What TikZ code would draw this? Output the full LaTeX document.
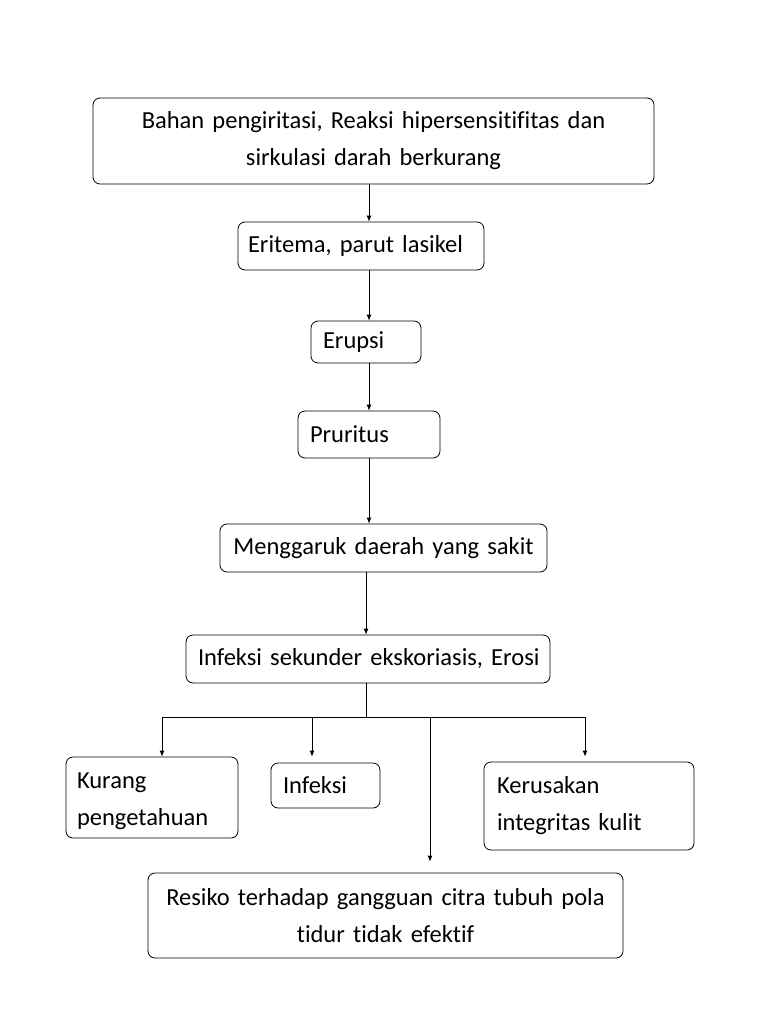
\documentclass[tikz,border=0pt]{standalone}
\usepackage{fontspec}
\setmainfont[Ligatures={NoCommon},WordSpace=0.8]{Carlito}
\usetikzlibrary{arrows.meta}
\begin{document}
\begin{tikzpicture}[x=1pt,y=-1pt,
  box/.style={draw, rounded corners=7pt, line width=0.8pt, inner xsep=12pt, inner ysep=0pt,
     font=\fontsize{24.5}{37}\selectfont},
  arr/.style={line width=0.8pt, -{Latex[length=6pt,width=5pt]}},
  ln/.style={line width=0.8pt}]
\useasboundingbox (0,0) rectangle (768,1024);
\node[box, align=center, text width=537pt, minimum height=86pt] (top) at (373.5,141) {Bahan pengiritasi, Reaksi hipersensitifitas dan\\sirkulasi darah berkurang};
\node[box, align=left, text width=226pt, inner xsep=10pt, minimum height=48pt] (erit) at (361,246) {\mbox{Eritema, parut lasikel}};
\node[box, align=left, text width=86pt, minimum height=42pt] (erup) at (366,342) {Erupsi};
\node[box, align=left, text width=118pt, minimum height=47pt] (prur) at (369,434.5) {Pruritus};
\node[box, align=center, text width=303pt, minimum height=48pt] (meng) at (383.5,548) {\mbox{Menggaruk daerah yang sakit}};
\node[box, align=left, text width=340pt, minimum height=48pt] (infs) at (368,659) {\mbox{Infeksi sekunder ekskoriasis, Erosi}};
\node[box, align=left, text width=150pt, inner xsep=11pt, minimum height=81pt] (kur) at (152,797.5) {\rule{0pt}{24pt}Kurang\\pengetahuan};
\node[box, align=left, text width=85pt, minimum height=45pt] (inf) at (325.5,785.5) {Infeksi};
\node[box, align=left, text width=184pt, inner xsep=13pt, minimum height=88pt] (ker) at (589,806) {Kerusakan\\integritas kulit};
\node[box, align=center, text width=451pt, minimum height=85pt] (res) at (385.5,915.5) {Resiko terhadap gangguan citra tubuh pola\\tidur tidak efektif};
\coordinate (c1) at (369,0);
\coordinate (c2) at (366,0);
\coordinate (j) at (366,717);
\coordinate (jl) at (162,717);
\coordinate (jr) at (585,717);
\coordinate (d2) at (312,717);
\coordinate (d3) at (430,717);
\draw[arr] (top.south -| c1) -- (erit.north -| c1);
\draw[arr] (erit.south -| c1) -- (erup.north -| c1);
\draw[arr] (erup.south -| c1) -- (prur.north -| c1);
\draw[arr] (prur.south -| c1) -- (meng.north -| c1);
\draw[arr] (meng.south -| c2) -- (infs.north -| c2);
\draw[ln] (infs.south -| c2) -- (j);
\draw[ln] (jl) -- (jr);
\draw[arr] (jl) -- (kur.north -| jl);
\draw[arr, shorten >=6pt] (d2) -- (inf.north -| d2);
\draw[arr, shorten >=11pt] (d3) -- (res.north -| d3);
\draw[arr, shorten >=5pt] (jr) -- (ker.north -| jr);
\end{tikzpicture}
\end{document}
